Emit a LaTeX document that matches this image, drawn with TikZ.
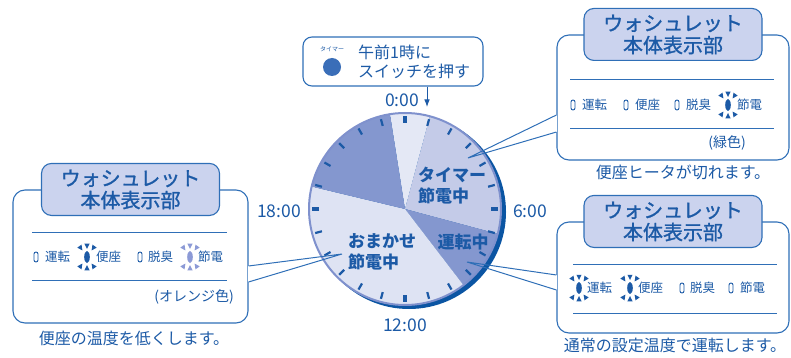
\documentclass[tikz,border=0pt]{standalone}
\usepackage{fontspec}
\setmainfont{Noto Sans CJK JP}
\newfontfamily\headfont[FakeBold=1.3]{Noto Sans CJK JP}
\usetikzlibrary{arrows.meta,positioning,calc}
\definecolor{ink}{HTML}{1C5AA6}
\definecolor{frame}{HTML}{2F6FB7}
\definecolor{tabbg}{HTML}{CBD3EE}
\definecolor{pale}{HTML}{8C9AD6}
\definecolor{btn}{HTML}{3A6EB8}
\definecolor{secA}{HTML}{E4E8F5}
\definecolor{secB}{HTML}{C4CBE8}
\definecolor{secC}{HTML}{8497CF}
\definecolor{secD}{HTML}{DEE3F3}
\definecolor{rim}{HTML}{7F91CD}
\definecolor{rimdark}{HTML}{0B55A3}

\begin{document}
\begin{tikzpicture}[x=1pt, y=-1pt,
  panel/.style={draw=frame, line width=1.1pt, rounded corners=12pt, fill=white},
  tab/.style={draw=frame, line width=1.1pt, rounded corners=10pt, fill=tabbg,
              text=ink, align=center, font=\fontsize{20}{22}\headfont,
              minimum width=178pt, minimum height=52pt, inner sep=0pt},
  lbl/.style={text=ink, font=\fontsize{12.5}{14}\selectfont, inner sep=0pt, anchor=west},
  note/.style={text=ink, font=\fontsize{16}{19}\selectfont, inner sep=0pt},
  sect/.style={text=ink, font=\fontsize{17}{21}\bfseries\selectfont, align=left, inner sep=0pt},
  hour/.style={text=ink, font=\fontsize{17.5}{20}\selectfont, inner sep=0pt},
  rule/.style={frame, line width=0.9pt},
  tail/.style={frame, line width=1pt},
  arr/.style={-{Latex}, ink, line width=1pt},
  pics/lampon/.style={code={
    \fill (0,0) ellipse [x radius=2.8, y radius=6];
    \foreach \a in {-125,-90,-55,55,90,125}
      \fill (\a:8) -- (\a-11:13.5) -- (\a+11:13.5) -- cycle;}},
  pics/lampoff/.style={code={
    \draw[line width=0.9pt, rounded corners=2pt] (-2,-5) rectangle (2,5);}}
]
\useasboundingbox (0,0) rectangle (791,358);

% dial
\begin{scope}[shift={(405,209)}]
  \fill[rimdark] (4,3) circle [radius=97];
  \fill[secA] (0,0) -- (-99:96) arc [start angle=-99, end angle=-75, radius=96] -- cycle;
  \fill[secB] (0,0) -- (-75:96) arc [start angle=-75, end angle=15, radius=96] -- cycle;
  \fill[secC] (0,0) -- (15:96) arc [start angle=15, end angle=52.5, radius=96] -- cycle;
  \fill[secD] (0,0) -- (52.5:96) arc [start angle=52.5, end angle=193.5, radius=96] -- cycle;
  \fill[secC] (0,0) -- (193.5:96) arc [start angle=193.5, end angle=261, radius=96] -- cycle;
  \draw[rim, line width=2pt] (0,0) circle [radius=96];
  \foreach \h in {0,...,23} {
    \pgfmathsetmacro\w{mod(\h,6)==0 ? 4.5 : 2.2}
    \draw[ink, line width=\w pt] (15*\h-90:86) -- (15*\h-90:93);
  }
\end{scope}

\node[sect, anchor=west] (timer) at (418,186) {タイマー\\節電中};
\node[sect] (run) at (463,242) {運転中};
\node[sect, anchor=west] (auto) at (348,252) {おまかせ\\節電中};

\node[hour] (h0) at (402,100) {0:00};
\node[hour] (h6) at (530,211) {6:00};
\node[hour] (h12) at (405,325) {12:00};
\node[hour] (h18) at (279,211) {18:00};

% timer button
\node[draw=frame, line width=1.1pt, rounded corners=9pt, fill=white,
      minimum width=180pt, minimum height=49pt] (start) at (393,61.5) {};
\node[text=ink, font=\fontsize{6}{7}\selectfont, inner sep=0pt] (tmrtag) at (332,49) {タイマー};
\node[circle, fill=btn, minimum size=18pt, inner sep=0pt] (btn) at (332,67) {};
\node[text=ink, font=\fontsize{16}{19}\selectfont, align=left, anchor=west, inner sep=0pt]
  (msg) at (358,62) {午前1時に\\スイッチを押す};
\coordinate (onetick) at (427,107);
\draw[arr] (start.south -| onetick) -- (onetick);

% panel: heater off
\node[panel, minimum width=232pt, minimum height=125pt] (rtpanel) at (673,97.5) {};
\node[tab] (rttab) at (rtpanel.north) {ウォシュレット\\本体表示部};
\draw[rule] (570,79) -- (774,79);
\draw[rule] (570,128) -- (774,128);
\pic[color=ink] at (573,105) {lampoff}; \node[lbl] (rt1) at (582,105) {運転};
\pic[color=ink] at (626,105) {lampoff}; \node[lbl] (rt2) at (635,105) {便座};
\pic[color=ink] at (677,105) {lampoff}; \node[lbl] (rt3) at (686,105) {脱臭};
\pic[color=ink] at (728,105) {lampon};  \node[lbl] (rt4) at (737,105) {節電};
\node[note, font=\fontsize{14}{16}\selectfont] (green) at (727,143) {(緑色)};
\node[note] (rtnote) at (683,172) {便座ヒータが切れます。};
\coordinate (rtip) at (468,158);
\draw[white, line width=2pt] ($(rtpanel.west)+(0,17.5)$) -- ($(rtpanel.west)+(0,34.5)$);
\draw[tail] ($(rtpanel.west)+(0,17.5)$) -- (rtip) -- ($(rtpanel.west)+(0,34.5)$);

% panel: seat lowered
\node[panel, minimum width=235pt, minimum height=133pt] (lpanel) at (130.5,256.5) {};
\node[tab] (ltab) at (lpanel.north) {ウォシュレット\\本体表示部};
\draw[rule] (32,232) -- (227,232);
\draw[rule] (32,280) -- (227,280);
\pic[color=ink] at (36,257) {lampoff}; \node[lbl] (l1) at (45,257) {運転};
\pic[color=ink] at (87,257) {lampon};  \node[lbl] (l2) at (96,257) {便座};
\pic[color=ink] at (140,257) {lampoff}; \node[lbl] (l3) at (148,257) {脱臭};
\pic[color=pale] at (190,257) {lampon}; \node[lbl] (l4) at (198,257) {節電};
\node[note, font=\fontsize{14}{16}\selectfont] (orange) at (194,297) {(オレンジ色)};
\node[note] (lnote) at (134,338) {便座の温度を低くします。};
\coordinate (ltip) at (342,254);
\draw[white, line width=2pt] ($(lpanel.east)+(0,9.5)$) -- ($(lpanel.east)+(0,25.5)$);
\draw[tail] ($(lpanel.east)+(0,9.5)$) -- (ltip) -- ($(lpanel.east)+(0,25.5)$);

% panel: normal running
\node[panel, minimum width=232pt, minimum height=111pt] (brpanel) at (673,277.5) {};
\node[tab] (brtab) at (brpanel.north) {ウォシュレット\\本体表示部};
\draw[rule] (573,264) -- (777,264);
\draw[rule] (573,313) -- (777,313);
\pic[color=ink] at (579,288) {lampon};  \node[lbl] (br1) at (587,288) {運転};
\pic[color=ink] at (630,288) {lampon};  \node[lbl] (br2) at (638,288) {便座};
\pic[color=ink] at (682,288) {lampoff}; \node[lbl] (br3) at (690,288) {脱臭};
\pic[color=ink] at (731,288) {lampoff}; \node[lbl] (br4) at (740,288) {節電};
\node[note] (brnote) at (675,345) {通常の設定温度で運転します。};
\coordinate (brtip) at (467,262);
\draw[white, line width=2pt] ($(brpanel.west)+(0,-2.5)$) -- ($(brpanel.west)+(0,12.5)$);
\draw[tail] ($(brpanel.west)+(0,-2.5)$) -- (brtip) -- ($(brpanel.west)+(0,12.5)$);
\end{tikzpicture}
\end{document}
